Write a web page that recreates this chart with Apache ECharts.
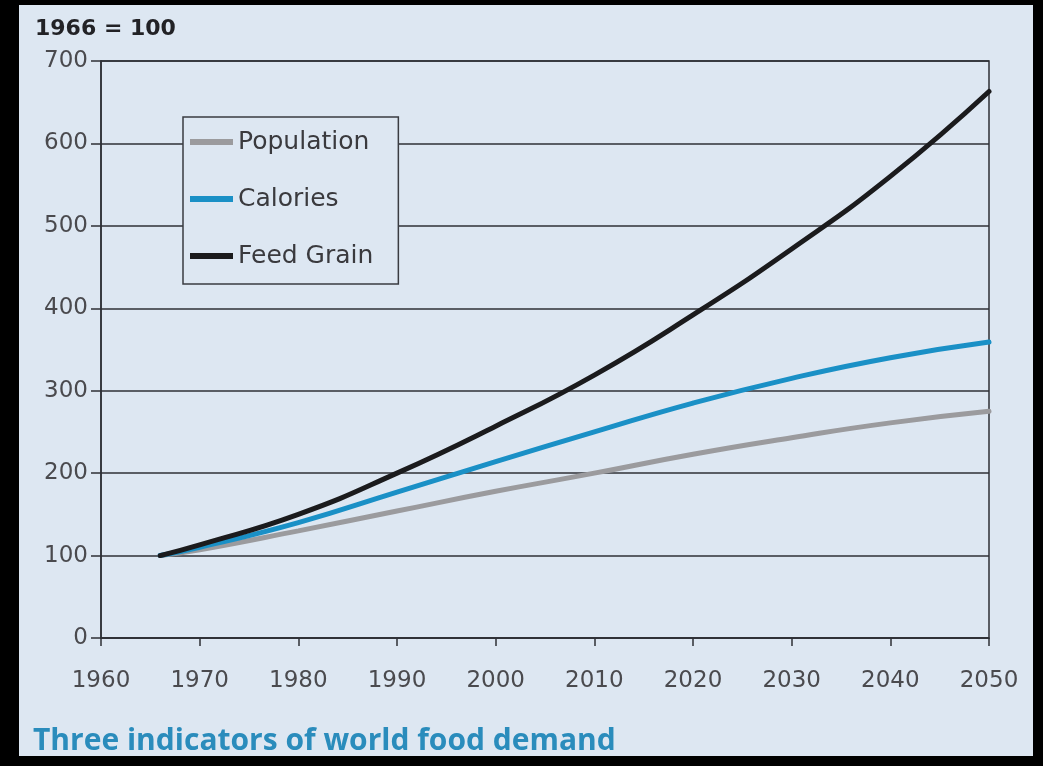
<!DOCTYPE html>
<html>
<head>
<meta charset="utf-8">
<script src="https://cdn.jsdelivr.net/npm/echarts@6/dist/echarts.min.js"></script>
<style>
html,body{margin:0;padding:0;background:#000;width:1043px;height:766px;overflow:hidden;}
#c{position:absolute;left:19px;top:5px;width:1014px;height:751px;background:#dde7f2;}
</style>
</head>
<body>
<div id="c"></div>
<script>
const years = [1966, 1970, 1980, 1990, 2000, 2010, 2020, 2030, 2040, 2050];
const population = [100, 107, 130, 154, 178, 200, 223, 243, 261, 275];
const calories = [100, 110, 140, 177, 214, 250, 285, 315, 340, 359];
const feedGrain = [100, 113, 150, 200, 257, 319, 392, 472, 560, 663];
const seriesNames = ['Population', 'Calories', 'Feed Grain'];
const xTicks = [1960, 1970, 1980, 1990, 2000, 2010, 2020, 2030, 2040, 2050];
const yTicks = [0, 100, 200, 300, 400, 500, 600, 700];
const indexNote = '1966 = 100';
const chartTitle = 'Three indicators of world food demand';

const FONT = '"DejaVu Sans", sans-serif';
const TITLE_FONT = '"Open Sans", "DejaVu Sans", sans-serif';
const colors = ['#9b9b9e', '#1a90c6', '#1b1b1d'];
const values = [population, calories, feedGrain];

const chart = echarts.init(document.getElementById('c'));
chart.setOption({
  animation: false,
  backgroundColor: '#dde7f2',
  textStyle: {fontFamily: FONT},
  grid: {
    left: 82, top: 56, right: 44, bottom: 118,
    show: true, borderColor: '#2e3036', borderWidth: 1.5, backgroundColor: 'transparent'
  },
  xAxis: {
    type: 'value', min: xTicks[0], max: xTicks[xTicks.length - 1], interval: 10,
    axisLine: {show: true, lineStyle: {color: '#2e3036', width: 1.5}},
    axisTick: {show: true, length: 8, lineStyle: {color: '#2e3036', width: 1.5}},
    axisLabel: {color: '#4a4a4e', fontSize: 23, fontFamily: FONT, margin: 32,
      formatter: v => xTicks.includes(v) ? String(v) : ''},
    splitLine: {show: false}
  },
  yAxis: {
    type: 'value', min: yTicks[0], max: yTicks[yTicks.length - 1], interval: 100,
    axisLine: {show: true, lineStyle: {color: '#2e3036', width: 1.5}},
    axisTick: {show: true, length: 10, lineStyle: {color: '#2e3036', width: 1.5}},
    axisLabel: {color: '#4a4a4e', fontSize: 23, fontFamily: FONT, margin: 13,
      formatter: v => yTicks.includes(v) ? String(v) : ''},
    splitLine: {show: true, lineStyle: {color: '#2e3036', width: 1.5}}
  },
  legend: {
    orient: 'vertical', left: 164, top: 112,
    data: seriesNames,
    icon: 'rect', itemWidth: 43, itemHeight: 6, itemGap: 27,
    padding: [10, 25, 13, 7],
    backgroundColor: '#dde7f2', borderColor: '#3a3c42', borderWidth: 1.5,
    textStyle: {color: '#3a3a3e', fontSize: 25, fontFamily: FONT, lineHeight: 30},
    selectedMode: false
  },
  graphic: [
    {type: 'text', left: 16, top: 13, style: {text: indexNote, fill: '#222226', font: 'bold 22px ' + FONT}},
    {type: 'text', left: 14, top: 721, style: {text: chartTitle, fill: '#2a8cbc', font: 'bold 30px ' + TITLE_FONT}}
  ],
  series: seriesNames.map((name, i) => ({
    name: name, type: 'line', smooth: true, showSymbol: false,
    data: years.map((y, j) => [y, values[i][j]]),
    lineStyle: {color: colors[i], width: 5, cap: 'round'},
    itemStyle: {color: colors[i]},
    z: 3 + i
  }))
});
</script>
</body>
</html>
